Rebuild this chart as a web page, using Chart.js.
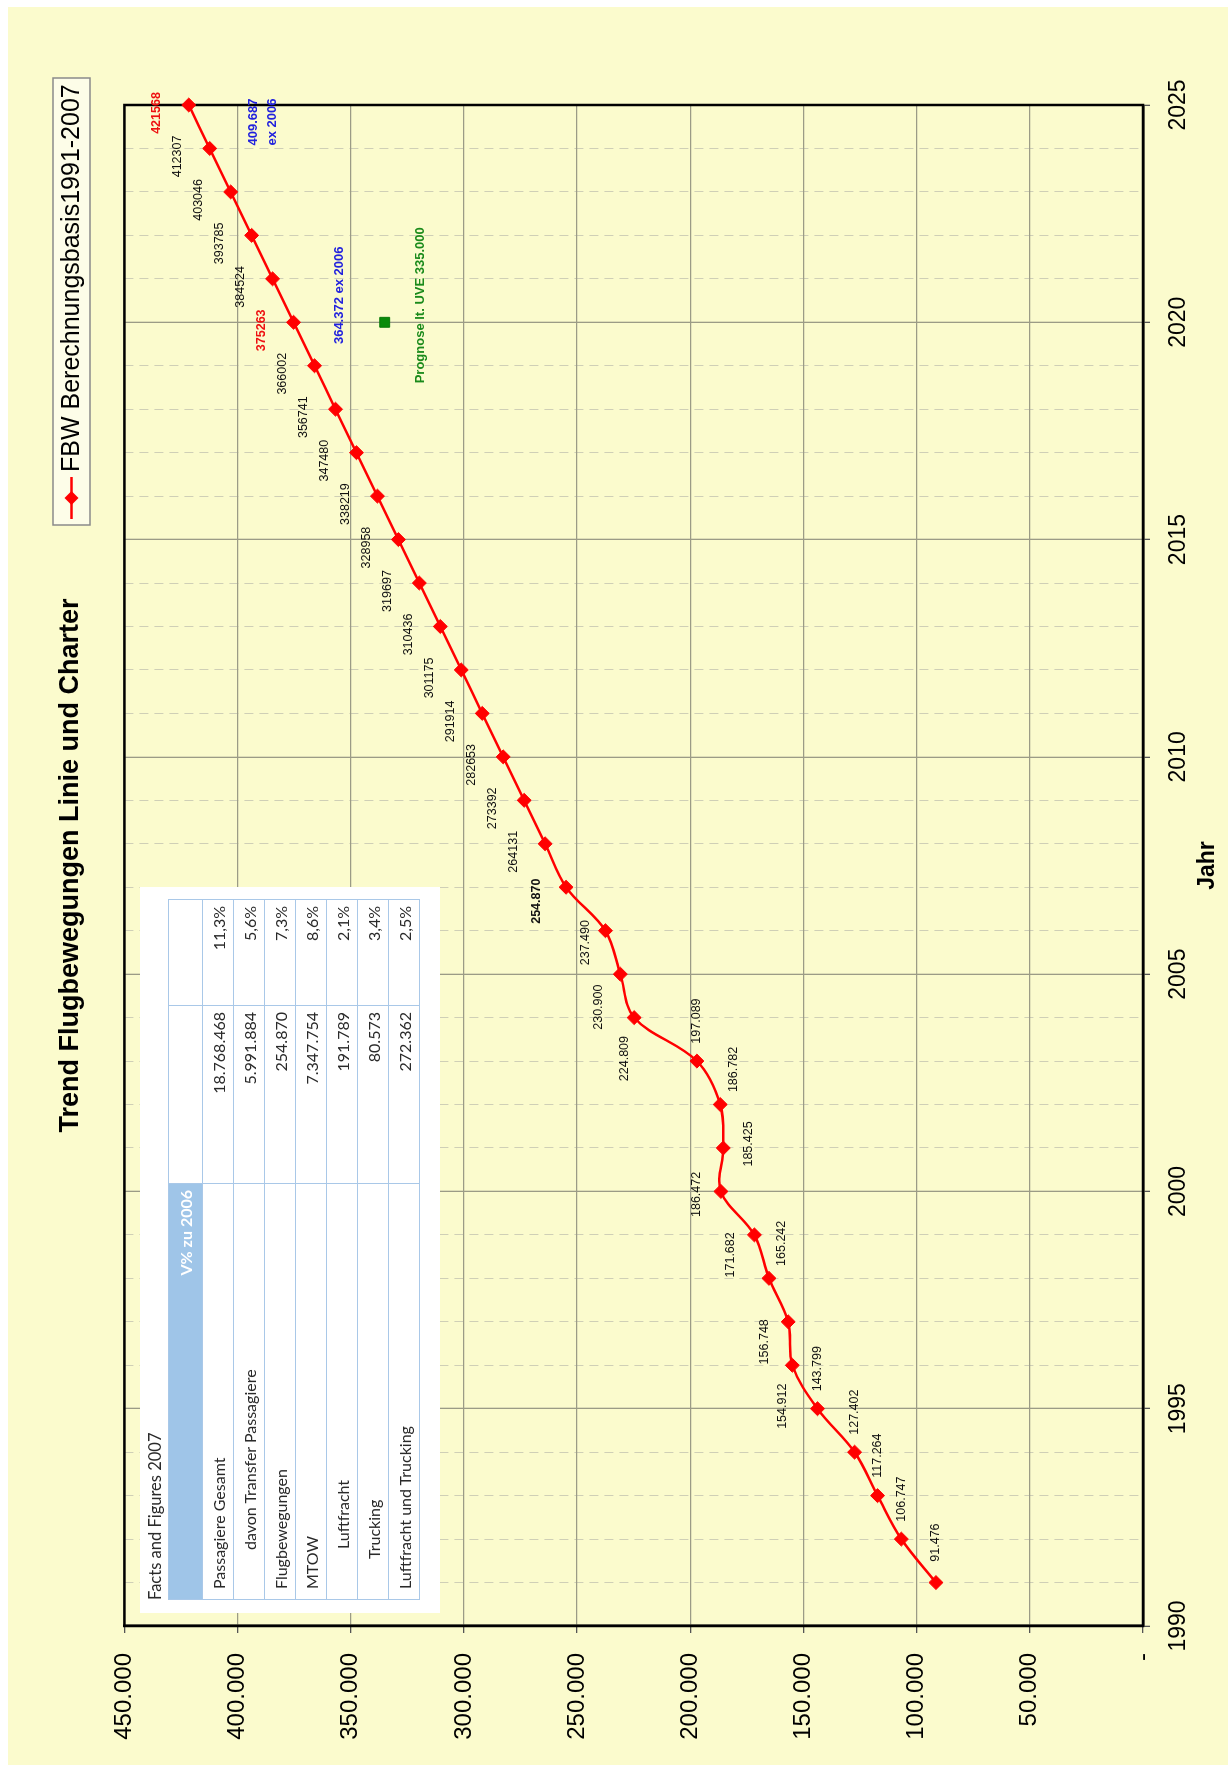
<!DOCTYPE html>
<html>
<head>
<meta charset="utf-8">
<script src="https://cdn.jsdelivr.net/npm/chart.js@4.4.1/dist/chart.umd.min.js"></script>
<style>
  html, body { margin: 0; padding: 0; background: #fff; overflow: hidden; }
  /* the whole chart is laid out landscape and turned a quarter to the left */
  #page { position: absolute; left: 0; top: 0; width: 1769px; height: 1231px;
          transform-origin: 0 0; transform: translate(0, 1769px) rotate(-90deg); }
  #paper { position: absolute; left: 4px; top: 8px; right: 7px; bottom: 3px; background: #FBFBCD; }
  #chart { position: absolute; left: 0; top: 0; }
  #facts { position: absolute; left: 156px; top: 140px; width: 726px; height: 300px;
           background: #fff; font-family: Lato, "Open Sans", sans-serif; color: #2a2a2a; }
  #facts .cap { position: absolute; left: 13px; top: 5px; font-size: 16.5px; }
  #facts table { position: absolute; left: 13px; top: 28px; border-collapse: collapse; font-size: 16px; }
  #facts td { border: 1px solid #a9c8e8; padding: 0 6px; height: 30px; white-space: nowrap; }
  #facts td.num { text-align: right; }
  #facts tr.head td { height: 33px; }
  #facts td.blue { background: #9fc5e8; color: #fff; text-align: right; font-weight: bold; }
</style>
</head>
<body>
<div id="page">
  <div id="paper"></div>
  <canvas id="chart" width="1769" height="1231"></canvas>
  <div id="facts">
    <div class="cap" id="factsTitle"></div>
    <table id="factsTable"></table>
  </div>
</div>
<script>
const years = [1991, 1992, 1993, 1994, 1995, 1996, 1997, 1998, 1999, 2000,
               2001, 2002, 2003, 2004, 2005, 2006, 2007, 2008, 2009, 2010,
               2011, 2012, 2013, 2014, 2015, 2016, 2017, 2018, 2019, 2020,
               2021, 2022, 2023, 2024, 2025];
const movements = [91476, 106747, 117264, 127402, 143799, 154912, 156748, 165242, 171682, 186472,
                   185425, 186782, 197089, 224809, 230900, 237490, 254870, 264131, 273392, 282653,
                   291914, 301175, 310436, 319697, 328958, 338219, 347480, 356741, 366002, 375263,
                   384524, 393785, 403046, 412307, 421568];
const seriesName = 'FBW Berechnungsbasis1991-2007';

// where each point label sits (codes resolved in labelOffsets below)
const labelPlace = ['R', 'R', 'R', 'R', 'R', 'L', 'AL', 'RB', 'AL', 'A0',
                    'B', 'RB', 'R', 'L', 'AL2', 'AL3', 'A7', 'A', 'A', 'A',
                    'A', 'A', 'A', 'A', 'A', 'A', 'A', 'A', 'A', 'A',
                    'A', 'A', 'A', 'A', 'A'];
const redLabels = [2020, 2025];
const boldLabels = [2007];

const prognoseYear = [2020];
const prognoseValue = [335000];

const noteYears = [2020, 2025, 2020];
const noteValues = [364372, 409687, 335000];
const noteTexts = [['364.372 ex 2006'], ['409.687', 'ex 2006'], ['Prognose lt. UVE 335.000']];

const factsTitle = 'Facts and Figures 2007';
const factsHeader = 'V% zu 2006';
const factsLabels = ['Passagiere Gesamt', 'davon Transfer Passagiere', 'Flugbewegungen', 'MTOW',
                     'Luftfracht', 'Trucking', 'Luftfracht und Trucking'];
const factsValues = ['18.768.468', '5.991.884', '254.870', '7.347.754', '191.789', '80.573', '272.362'];
const factsChange = ['11,3%', '5,6%', '7,3%', '8,6%', '2,1%', '3,4%', '2,5%'];
const factsIndent = [0, 39, 0, 0, 40, 30, 0];

const FONT = '"Liberation Sans", Arial, sans-serif';
const MAJOR = '#9b9b86';
const MINOR = '#cfcfb6';

function dots(n) {
    return String(n).replace(/\B(?=(\d{3})+(?!\d))/g, '.');
}

//* facts table
document.getElementById('factsTitle').textContent = factsTitle;
let html = `<tr class="head"><td class="blue" style="width:403px">${factsHeader}</td><td style="width:165px"></td><td style="width:93px"></td></tr>`;
for (let i = 0; i < factsLabels.length; i++) {
    html += `<tr><td style="padding-left:${10 + factsIndent[i]}px">${factsLabels[i]}</td>` +
            `<td class="num">${factsValues[i]}</td><td class="num">${factsChange[i]}</td></tr>`;
}
document.getElementById('factsTable').innerHTML = html;

//* plot frame (top + right sides)
const framePlugin = {
    id: 'frame',
    beforeDatasetsDraw(chart) {
        const a = chart.chartArea;
        const ctx = chart.ctx;
        ctx.save();
        ctx.strokeStyle = '#000';
        ctx.lineWidth = 2.5;
        ctx.strokeRect(a.left, a.top, a.right - a.left, a.bottom - a.top);
        ctx.restore();
    }
};

//* point labels and notes
const labelOffsets = {
    R: [40, 0], L: [-41, -10], AL: [-20, -24], RB: [35, 13], A0: [-3, -24],
    B: [4, 25], AL2: [-33, -22], AL3: [-12, -20], A7: [-14, -30], A: [-8, -32]
};
const noteOffsets = [[27, 21], [-17, 38], [17, 36]];

const labelPlugin = {
    id: 'pointLabels',
    afterDatasetsDraw(chart) {
        const ctx = chart.ctx;
        const meta = chart.getDatasetMeta(0);
        const xs = chart.scales.x, ys = chart.scales.y;
        ctx.save();
        ctx.textAlign = 'center';
        ctx.textBaseline = 'middle';
        meta.data.forEach((pt, i) => {
            const yr = years[i];
            const red = redLabels.includes(yr);
            const bold = red || boldLabels.includes(yr);
            const text = yr <= 2007 ? dots(movements[i]) : String(movements[i]);
            const off = labelOffsets[labelPlace[i]];
            ctx.font = (bold ? 'bold ' : '') + '12.5px ' + FONT;
            ctx.fillStyle = red ? '#ee1111' : '#111';
            ctx.fillText(text, pt.x + off[0], pt.y + off[1]);
        });
        noteTexts.forEach((lines, i) => {
            const x = xs.getPixelForValue(noteYears[i]) + noteOffsets[i][0];
            const y = ys.getPixelForValue(noteValues[i]) + noteOffsets[i][1];
            ctx.font = 'bold 13px ' + FONT;
            ctx.fillStyle = i === 2 ? '#1a8a1a' : '#2222dd';
            lines.forEach((l, k) => ctx.fillText(l, x, y + k * 19));
        });
        ctx.restore();
    }
};

//* legend box
const legendPlugin = {
    id: 'boxLegend',
    afterDraw(chart) {
        const ctx = chart.ctx;
        const x0 = 1244, y0 = 53, w = 447, h = 37;
        const cy = y0 + h / 2;
        ctx.save();
        ctx.fillStyle = '#fdfde8';
        ctx.fillRect(x0, y0, w, h);
        ctx.strokeStyle = '#8a8a8a';
        ctx.lineWidth = 1.5;
        ctx.strokeRect(x0, y0, w, h);
        ctx.strokeStyle = '#ff0000';
        ctx.lineWidth = 2.5;
        ctx.beginPath();
        ctx.moveTo(x0 + 6, cy);
        ctx.lineTo(x0 + 48, cy);
        ctx.stroke();
        ctx.fillStyle = '#ff0000';
        ctx.beginPath();
        ctx.moveTo(x0 + 27, cy - 7);
        ctx.lineTo(x0 + 34, cy);
        ctx.lineTo(x0 + 27, cy + 7);
        ctx.lineTo(x0 + 20, cy);
        ctx.closePath();
        ctx.fill();
        ctx.fillStyle = '#000';
        ctx.font = '25px ' + FONT;
        ctx.textAlign = 'left';
        ctx.textBaseline = 'middle';
        ctx.fillText(seriesName, x0 + 53, cy + 1);
        ctx.restore();
    }
};

const isMajor = c => c.tick && c.tick.value % 5 === 0;

new Chart(document.getElementById('chart'), {
    type: 'line',
    data: {
        datasets: [{
            label: seriesName,
            data: years.map((y, i) => ({ x: y, y: movements[i] })),
            borderColor: '#ff0000',
            backgroundColor: '#ff0000',
            borderWidth: 2.5,
            tension: 0.35,
            pointStyle: 'rectRot',
            pointRadius: 7,
            pointBorderWidth: 1,
            pointBorderColor: '#ff0000',
            clip: false
        }, {
            label: 'Prognose',
            data: prognoseYear.map((y, i) => ({ x: y, y: prognoseValue[i] })),
            showLine: false,
            pointStyle: 'rect',
            pointRadius: 7,
            backgroundColor: '#0a8a0a',
            borderColor: '#0a7a0a',
            pointBorderWidth: 1,
            clip: false
        }]
    },
    options: {
        responsive: false,
        animation: false,
        devicePixelRatio: 1,
        layout: { padding: { left: 0, right: 105, top: 0, bottom: 0 } },
        scales: {
            x: {
                type: 'linear',
                min: 1990,
                max: 2025,
                ticks: {
                    stepSize: 1,
                    autoSkip: false,
                    maxRotation: 0,
                    padding: 15,
                    color: '#000',
                    font: { family: FONT, size: 23 },
                    callback: v => (v % 5 === 0 ? String(v) : '')
                },
                grid: {
                    color: c => (isMajor(c) ? MAJOR : MINOR),
                    lineWidth: c => (isMajor(c) ? 1.3 : 1),
                    tickLength: 7,
                    tickColor: c => (isMajor(c) ? '#555' : 'rgba(0,0,0,0)')
                },
                border: {
                    color: '#000',
                    width: 2.5,
                    dash: c => (c.tick && c.tick.value % 5 !== 0 ? [9, 6] : [])
                },
                title: {
                    display: true,
                    text: 'Jahr',
                    color: '#000',
                    font: { family: FONT, size: 23, weight: 'bold' },
                    padding: { top: 0, bottom: 10 }
                },
                afterFit(s) { s.height = 88; }
            },
            y: {
                min: 0,
                max: 450000,
                ticks: {
                    stepSize: 50000,
                    padding: 20,
                    color: '#000',
                    font: { family: FONT, size: 24 },
                    callback: v => (v === 0 ? '-' : dots(v))
                },
                grid: { color: MAJOR, lineWidth: 1.3, tickLength: 7, tickColor: '#555' },
                border: { color: '#000', width: 2.5 },
                afterFit(s) { s.width = 143; }
            }
        },
        plugins: {
            legend: { display: false },
            tooltip: { enabled: false },
            title: {
                display: true,
                fullSize: false,
                text: 'Trend Flugbewegungen Linie und Charter',
                color: '#000',
                font: { family: FONT, size: 27, weight: 'bold' },
                padding: { top: 54, bottom: 38 }
            }
        }
    },
    plugins: [framePlugin, labelPlugin, legendPlugin]
});
</script>
</body>
</html>
